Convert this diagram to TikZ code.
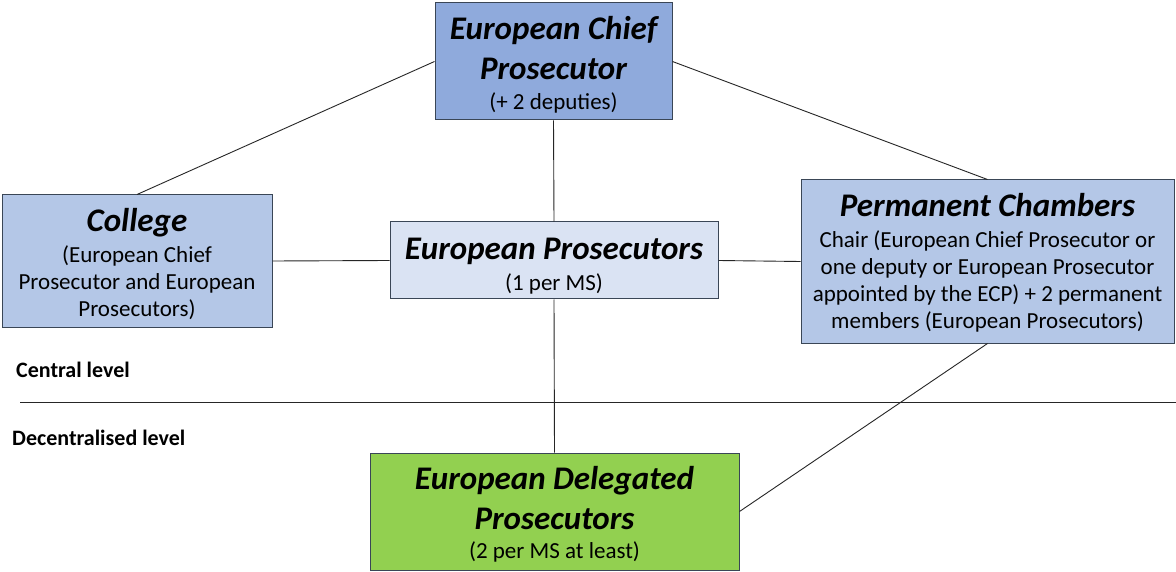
\documentclass[tikz,border=0pt]{standalone}
\usepackage{fontspec}
\setmainfont{Carlito}
\definecolor{ecpblue}{HTML}{8FAADC}
\definecolor{midblue}{HTML}{B4C7E7}
\definecolor{lightblue}{HTML}{DAE3F3}
\definecolor{edpgreen}{HTML}{92D050}
\definecolor{boxedge}{HTML}{3A4656}
\newcommand{\ttl}[1]{{\fontsize{33}{40}\selectfont\bfseries\itshape #1}}
\tikzset{
  box/.style={draw=boxedge, line width=1pt, inner sep=0pt},
  boxtext/.style={inner sep=0pt, align=center, font=\fontsize{23}{27}\selectfont},
  link/.style={draw=black!85, line width=0.9pt},
  lvl/.style={anchor=west, inner sep=0pt, font=\fontsize{22}{24}\selectfont\bfseries}
}
\begin{document}
\begin{tikzpicture}[x=1pt,y=-1pt]
\useasboundingbox (0,0) rectangle (1176,572);
\fill[white] (0,0) rectangle (1176,572);
% boxes
\node[box, fill=ecpblue, minimum width=237pt, minimum height=117pt] (ecp) at (553.5,61.5) {};
\node[box, fill=midblue, minimum width=270pt, minimum height=132pt] (col) at (137,261) {};
\node[box, fill=lightblue, minimum width=328pt, minimum height=77pt] (ep) at (554,260.5) {};
\node[box, fill=midblue, minimum width=373pt, minimum height=163pt] (pc) at (987.5,261.5) {};
\node[box, fill=edpgreen, minimum width=369pt, minimum height=117pt] (edp) at (554.5,511.5) {};
% box texts
\node[boxtext] (ecpT) at ([yshift=-3.5pt]ecp.center)
  {\ttl{European Chief}\\[13pt]\ttl{Prosecutor}\\[3pt](+ 2 deputies)};
\node[boxtext] (colT) at ([yshift=-3.5pt]col.center)
  {\ttl{College}\\[4pt](European Chief\\Prosecutor and European\\Prosecutors)};
\node[boxtext] (epT) at ([yshift=-6pt]ep.center)
  {\ttl{European Prosecutors}\\[4pt](1 per MS)};
\node[boxtext] (pcT) at ([yshift=-1pt]pc.center)
  {\ttl{Permanent Chambers}\\[4pt]Chair (European Chief Prosecutor or\\one deputy or European Prosecutor\\appointed by the ECP) + 2 permanent\\members (European Prosecutors)};
\node[boxtext] (edpT) at ([yshift=-3pt]edp.center)
  {\ttl{European Delegated}\\[13pt]\ttl{Prosecutors}\\[2pt](2 per MS at least)};
% level labels and divider
\node[lvl] (central) at (16,370) {Central level};
\node[lvl] (decentral) at (12,438) {Decentralised level};
\coordinate (divL) at (20,402);
\coordinate (divR) at (1176,402);
\draw[link] (divL) -- (divR);
% connectors
\draw[link] (ecp.west) -- (col.north);
\draw[link] (ecp.east) -- (pc.north);
\draw[link] (ecp.south) -- (ep.north);
\draw[link] (col.east) -- (ep.west);
\draw[link] (ep.east) -- (pc.west);
\draw[link] (ep.south) -- (edp.north);
\draw[link] (pc.south) -- (edp.east);
\end{tikzpicture}
\end{document}
